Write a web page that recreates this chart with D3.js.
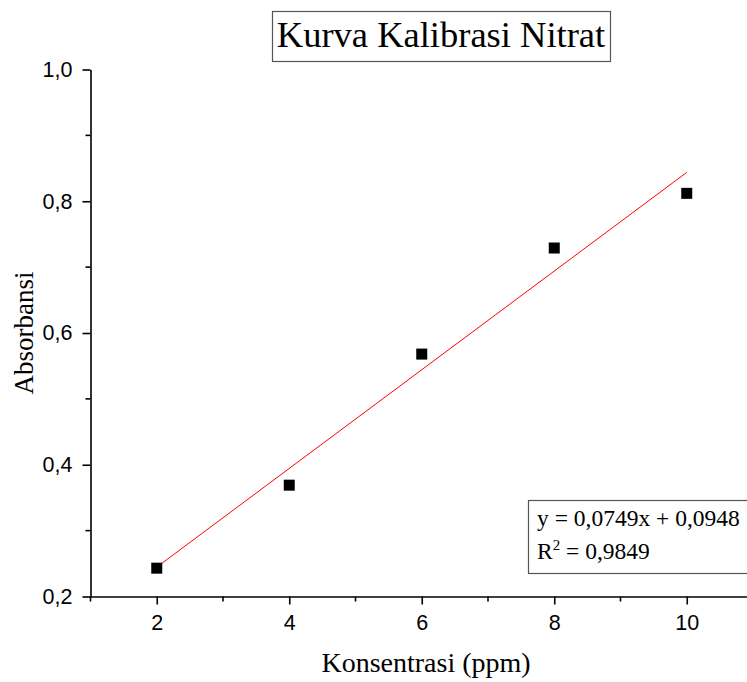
<!DOCTYPE html>
<html>
<head>
<meta charset="utf-8">
<script src="https://cdn.jsdelivr.net/npm/d3@7"></script>
<style>
  html, body { margin: 0; padding: 0; background: #fff; }
  svg { display: block; }
</style>
</head>
<body>
<svg id="chart" width="747" height="682"></svg>
<script>
// Calibration data: nitrate concentration (ppm) vs absorbance
const konsentrasi = [2, 4, 6, 8, 10];
const absorbansi = [0.243, 0.369, 0.568, 0.729, 0.812];
const xTicks = [2, 4, 6, 8, 10];
const yTicks = [0.2, 0.4, 0.6, 0.8, 1.0];
const xMinor = [1, 3, 5, 7, 9, 11];
const yMinor = [0.3, 0.5, 0.7, 0.9];
const slope = 0.0749;
const intercept = 0.0948;
const r2 = "0,9849";

const svg = d3.select("#chart");

const x = d3.scaleLinear().domain([1, 11]).range([90.5, 753]);
const y = d3.scaleLinear().domain([0.2, 1.0]).range([596.5, 69.5]);

const comma = s => String(s).replace(".", ",");
const fmtY = v => comma(d3.format(".1f")(v));

const serif = "'Liberation Serif', 'Times New Roman', serif";
const sans = "'Liberation Sans', Arial, sans-serif";

// Title with frame
svg.append("rect")
  .attr("x", 272.5).attr("y", 11.5).attr("width", 338).attr("height", 50)
  .attr("fill", "#fff").attr("stroke", "#555").attr("stroke-width", 1.2);
svg.append("text")
  .attr("x", 441).attr("y", 47)
  .attr("text-anchor", "middle")
  .style("font-family", serif).style("font-size", "36.5px")
  .text("Kurva Kalibrasi Nitrat");

// Axes
const xAxis = d3.axisBottom(x).tickValues(xTicks).tickSize(8).tickPadding(10)
  .tickFormat(d3.format("d")).tickSizeOuter(0);
const yAxis = d3.axisLeft(y).tickValues(yTicks).tickSize(8).tickPadding(10)
  .tickFormat(fmtY).tickSizeOuter(0);

const gx = svg.append("g").attr("transform", `translate(0,${y(0.2)})`).call(xAxis);
const gy = svg.append("g").attr("transform", `translate(${x(1)},0)`).call(yAxis);

[gx, gy].forEach(g => {
  g.select(".domain").attr("stroke", "#000").attr("stroke-width", 1.6);
  g.selectAll(".tick line").attr("stroke", "#000").attr("stroke-width", 1.6);
  g.selectAll(".tick text").attr("fill", "#000")
    .style("font-family", sans).style("font-size", "21.5px");
});

// Minor ticks
svg.append("g").selectAll("line").data(xMinor).join("line")
  .attr("x1", d => x(d)).attr("x2", d => x(d))
  .attr("y1", y(0.2)).attr("y2", y(0.2) + 5)
  .attr("stroke", "#000").attr("stroke-width", 1.6);
svg.append("g").selectAll("line").data(yMinor).join("line")
  .attr("x1", x(1)).attr("x2", x(1) - 5)
  .attr("y1", d => y(d)).attr("y2", d => y(d))
  .attr("stroke", "#000").attr("stroke-width", 1.6);

// Linear fit line
svg.append("line")
  .attr("x1", x(2)).attr("y1", y(slope * 2 + intercept))
  .attr("x2", x(10)).attr("y2", y(slope * 10 + intercept))
  .attr("stroke", "#ff0000").attr("stroke-width", 1);

// Data points
const sq = 11;
svg.append("g").selectAll("rect").data(konsentrasi).join("rect")
  .attr("x", d => x(d) - sq / 2)
  .attr("y", (d, i) => y(absorbansi[i]) - sq / 2)
  .attr("width", sq).attr("height", sq)
  .attr("fill", "#000");

// Axis titles
svg.append("text")
  .attr("x", 426).attr("y", 672)
  .attr("text-anchor", "middle")
  .style("font-family", serif).style("font-size", "28px")
  .text("Konsentrasi (ppm)");

svg.append("text")
  .attr("transform", "translate(33,333) rotate(-90)")
  .attr("text-anchor", "middle")
  .style("font-family", serif).style("font-size", "27px")
  .text("Absorbansi");

// Equation box
svg.append("rect")
  .attr("x", 528.5).attr("y", 500.5).attr("width", 240).attr("height", 73)
  .attr("fill", "#fff").attr("stroke", "#555").attr("stroke-width", 1.2);

const eq = svg.append("g").style("font-family", serif).style("font-size", "23.5px");
eq.append("text").attr("x", 537).attr("y", 526)
  .text(`y = ${comma(slope)}x + ${comma(intercept)}`);
const r = eq.append("text").attr("x", 537).attr("y", 559);
r.append("tspan").text("R");
r.append("tspan").attr("dy", -9).style("font-size", "15px").text("2");
r.append("tspan").attr("dy", 9).text(` = ${r2}`);
</script>
</body>
</html>
